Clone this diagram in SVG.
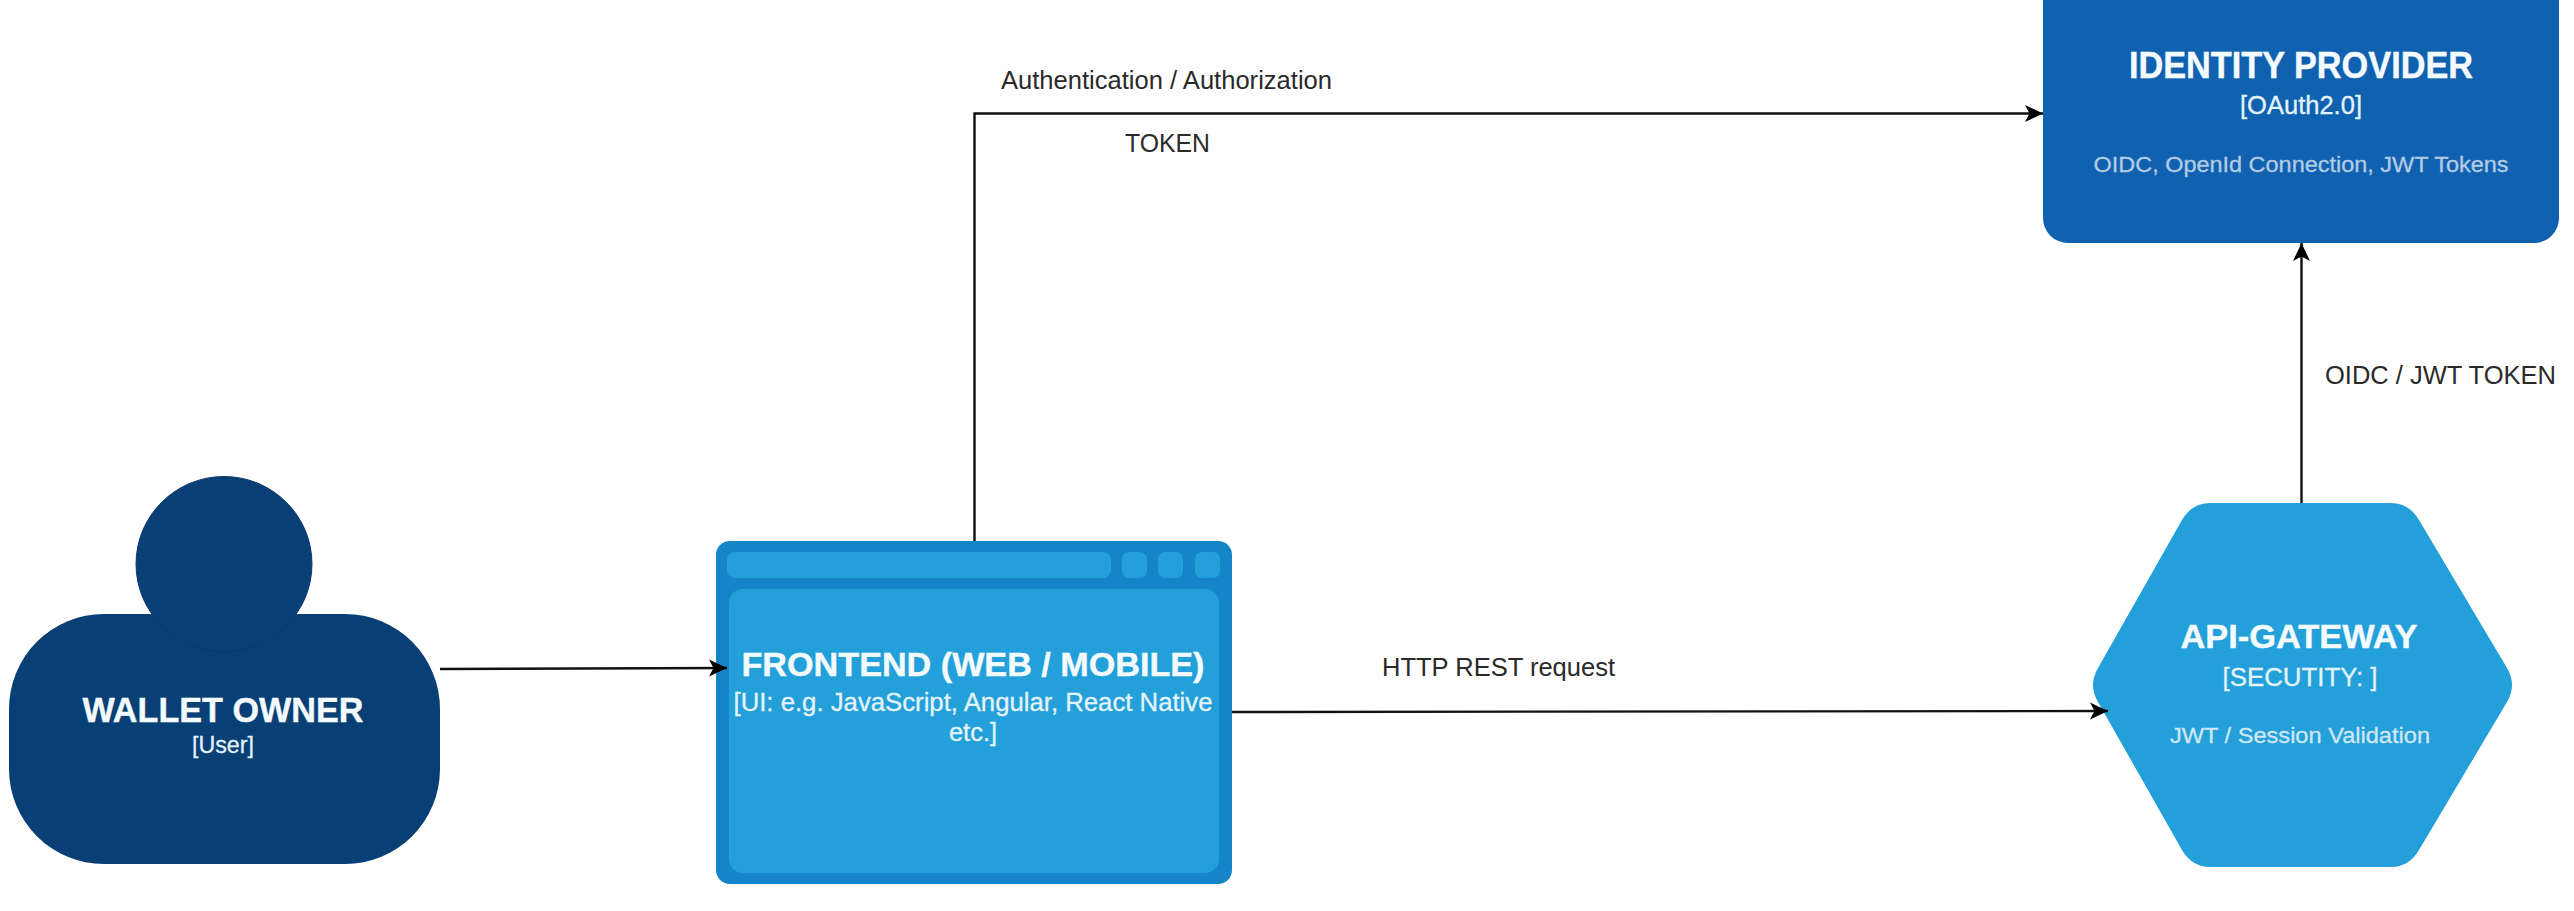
<svg xmlns="http://www.w3.org/2000/svg" width="2574" height="911" viewBox="0 0 2574 911">
<style>
text{font-family:"Liberation Sans",Arial,sans-serif;text-anchor:middle}
.t{font-weight:bold;fill:#f4fbff;stroke:#f4fbff;stroke-width:.4}
.s{fill:#e3f3fb;stroke:#e3f3fb;stroke-width:.3}
.d{fill:#cfe6f5;stroke:#cfe6f5;stroke-width:.3}
.l{fill:#2a2a2a;font-size:25px;text-anchor:start}
.c{fill:none;stroke:#111;stroke-width:2.4;marker-end:url(#a)}
</style>
<defs>
<marker id="a" markerUnits="userSpaceOnUse" markerWidth="20" markerHeight="20" viewBox="0 0 20 20" refX="18" refY="10" orient="auto">
<path d="M0,1.500 L18,10 L0,18.500 L4.500,10 Z" fill="#000"/>
</marker>
</defs>
<rect width="2574" height="911" fill="#fff"/>
<g id="wallet-owner">
<rect x="9" y="614" width="431" height="250" rx="95" ry="95" fill="#083f75"/>
<ellipse cx="224" cy="564" rx="88" ry="87.500" fill="#083f75" stroke="#0b3a68" stroke-width="1"/>
<text class="t" x="223" y="722" font-size="35" textLength="281" lengthAdjust="spacingAndGlyphs">WALLET OWNER</text>
<text class="s" x="223" y="753" font-size="24" textLength="62" lengthAdjust="spacingAndGlyphs">[User]</text>
</g>
<g id="frontend">
<rect x="716" y="541" width="516" height="343" rx="14" fill="#1584c9"/>
<rect x="727" y="552" width="384" height="26" rx="8" fill="#23a0da"/>
<rect x="1122" y="552" width="25" height="26" rx="7" fill="#23a0da"/>
<rect x="1158" y="552" width="25" height="26" rx="7" fill="#23a0da"/>
<rect x="1195" y="552" width="25" height="26" rx="7" fill="#23a0da"/>
<rect x="729" y="589" width="490" height="284" rx="14" fill="#23a0da"/>
<text class="t" x="973" y="676" font-size="34" textLength="463" lengthAdjust="spacingAndGlyphs">FRONTEND (WEB / MOBILE)</text>
<text class="s" x="973" y="711" font-size="25" textLength="479" lengthAdjust="spacingAndGlyphs">[UI: e.g. JavaScript, Angular, React Native</text>
<text class="s" x="973" y="741" font-size="25" textLength="48" lengthAdjust="spacingAndGlyphs">etc.]</text>
</g>
<g id="identity-provider">
<rect x="2043" y="-30" width="516" height="273" rx="25" fill="#1061b0"/>
<text class="t" x="2301" y="78" font-size="36" textLength="344" lengthAdjust="spacingAndGlyphs">IDENTITY PROVIDER</text>
<text class="s" x="2301" y="114" font-size="25" textLength="122" lengthAdjust="spacingAndGlyphs">[OAuth2.0]</text>
<text x="2301" y="172" font-size="22" fill="#b3cbe5" stroke="#b3cbe5" stroke-width=".3" textLength="415" lengthAdjust="spacingAndGlyphs">OIDC, OpenId Connection, JWT Tokens</text>
</g>
<g id="api-gateway">
<path d="M2210,503 L2391,503 Q2409,503 2419,520 L2507,668 Q2517,685 2507,702 L2419,850 Q2409,867 2391,867 L2210,867 Q2192,867 2182,850 L2098,702 Q2088,685 2098,668 L2182,520 Q2192,503 2210,503 Z" fill="#23a0da"/>
<text class="t" x="2299" y="648" font-size="34" textLength="237" lengthAdjust="spacingAndGlyphs">API-GATEWAY</text>
<text class="s" x="2300" y="686" font-size="25" textLength="155" lengthAdjust="spacingAndGlyphs">[SECUTITY: ]</text>
<text class="d" x="2300" y="743" font-size="22" textLength="260" lengthAdjust="spacingAndGlyphs">JWT / Session Validation</text>
</g>
<g id="connectors">
<path class="c" d="M440,669 L727,668"/>
<path class="c" d="M1232,712 L2108,711"/>
<path class="c" d="M974.500,541 L974.500,113.500 L2043,113.500"/>
<path class="c" d="M2301.500,503 L2301.500,243"/>
</g>
<g id="labels">
<text class="l" x="1001" y="89" textLength="331" lengthAdjust="spacingAndGlyphs">Authentication / Authorization</text>
<text class="l" x="1125" y="152" textLength="85" lengthAdjust="spacingAndGlyphs">TOKEN</text>
<text class="l" x="1382" y="676" textLength="233" lengthAdjust="spacingAndGlyphs">HTTP REST request</text>
<text class="l" x="2325" y="384" textLength="231" lengthAdjust="spacingAndGlyphs">OIDC / JWT TOKEN</text>
</g>
</svg>
